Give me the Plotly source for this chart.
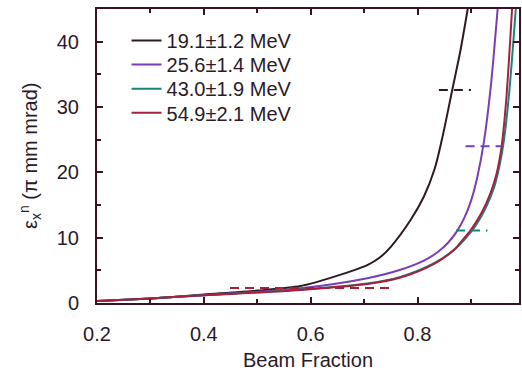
import plotly.graph_objects as go

names = ["19.1±1.2 MeV", "25.6±1.4 MeV", "43.0±1.9 MeV", "54.9±2.1 MeV"]
colors = ["#2e1a26", "#7a3db5", "#16857c", "#a81f3c"]

x_black = [0.2, 0.3, 0.4, 0.5, 0.581, 0.643, 0.706, 0.73, 0.75, 0.787, 0.812, 0.832, 0.847, 0.865, 0.88, 0.894]
y_black = [0.3, 0.7, 1.3, 1.9, 2.6, 4.0, 5.8, 7.0, 8.6, 12.7, 16.3, 20.5, 25.5, 32.6, 38.5, 45]

x_purple = [0.2, 0.3, 0.4, 0.5, 0.581, 0.706, 0.768, 0.812, 0.838, 0.858, 0.874, 0.888, 0.9, 0.912, 0.924, 0.937, 0.95]
y_purple = [0.3, 0.7, 1.2, 1.7, 2.25, 3.8, 5.1, 6.5, 7.8, 9.3, 11.0, 13.1, 15.6, 19.3, 24.5, 33.0, 45]

x_teal = [0.2, 0.3, 0.4, 0.5, 0.581, 0.706, 0.768, 0.831, 0.868, 0.89, 0.91, 0.928, 0.943, 0.954, 0.962, 0.972, 0.984]
y_teal = [0.3, 0.7, 1.2, 1.65, 2.05, 3.0, 4.0, 6.1, 8.1, 9.9, 12.0, 14.6, 17.6, 21.2, 25.0, 32.5, 45]

x_red = [0.2, 0.3, 0.4, 0.5, 0.581, 0.706, 0.768, 0.831, 0.868, 0.885, 0.9, 0.92, 0.937, 0.948, 0.957, 0.966, 0.977]
y_red = [0.3, 0.7, 1.2, 1.6, 2.0, 2.9, 3.9, 6.0, 8.1, 9.7, 11.2, 13.8, 16.9, 19.8, 23.7, 31.0, 45]

series_x = [x_black, x_purple, x_teal, x_red]
series_y = [y_black, y_purple, y_teal, y_red]

# short dashed reference segments
dash_x0 = [0.840, 0.890, 0.872, 0.449]
dash_x1 = [0.900, 0.956, 0.931, 0.750]
dash_y = [32.6, 24.0, 11.1, 2.3]

legend_ids = ["legend", "legend2", "legend3", "legend4"]

fig = go.Figure()
for i in range(4):
    fig.add_trace(go.Scatter(x=series_x[i], y=series_y[i], mode="lines", name=names[i],
                             legend=legend_ids[i],
                             line=dict(color=colors[i], width=2, shape="spline", smoothing=0.8)))
for i in range(4):
    fig.add_trace(go.Scatter(x=[dash_x0[i], dash_x1[i]], y=[dash_y[i], dash_y[i]], mode="lines",
                             showlegend=False, line=dict(color=colors[i], width=2, dash="9px,6px")))

axcol = "#3a1224"
txtcol = "#2a1a2a"
fs = 20
legend_y = [0.893, 0.811, 0.729, 0.647]
leg = {}
for i in range(4):
    leg[legend_ids[i]] = dict(x=0.07, y=legend_y[i], xanchor="left", yanchor="middle",
                              bgcolor="rgba(0,0,0,0)", font=dict(size=fs, color=txtcol), itemwidth=30)

fig.update_layout(
    width=522, height=375,
    margin=dict(l=97, r=3, t=9, b=72),
    paper_bgcolor="white", plot_bgcolor="white",
    font=dict(family="Liberation Sans, Arial, sans-serif", size=fs, color=txtcol),
    showlegend=True,
    **leg,
    xaxis=dict(range=[0.2, 0.99], tickvals=[0.2, 0.4, 0.6, 0.8], ticktext=["0.2", "0.4", "0.6", "0.8"],
               ticks="inside", ticklen=6, tickwidth=1.5, tickcolor=axcol, ticklabelstandoff=12,
               minor=dict(tickvals=[0.3, 0.5, 0.7, 0.9], ticks="inside", ticklen=4, tickcolor=axcol),
               showline=True, linecolor=axcol, linewidth=2, mirror="ticks", showgrid=False, zeroline=False,
               automargin=False),
    yaxis=dict(range=[0, 45], tickvals=[0, 10, 20, 30, 40],
               ticks="inside", ticklen=6, tickwidth=1.5, tickcolor=axcol, ticklabelstandoff=12,
               minor=dict(tickvals=[5, 15, 25, 35], ticks="inside", ticklen=4, tickcolor=axcol),
               showline=True, linecolor=axcol, linewidth=2, mirror="ticks", showgrid=False, zeroline=False,
               automargin=False),
    annotations=[
        dict(text="Beam Fraction", xref="paper", yref="paper", x=0.5, y=-0.194, xanchor="center",
             yanchor="middle", showarrow=False, font=dict(size=fs, color=txtcol)),
        dict(text="ε<sub>x</sub><sup>n</sup> (π mm mrad)", xref="paper", yref="paper", x=-0.159, y=0.5,
             xanchor="center", yanchor="middle", textangle=-90, showarrow=False,
             font=dict(size=fs, color=txtcol)),
    ],
)
fig.write_html("out.html", config={"displayModeBar": False},
               post_script="document.body.style.margin='0';document.body.style.padding='0';")
